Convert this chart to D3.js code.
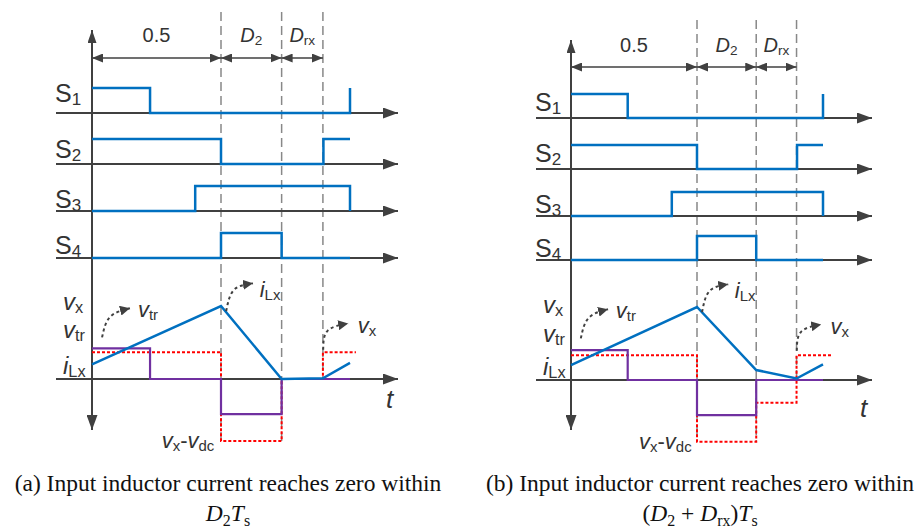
<!DOCTYPE html>
<html>
<head>
<meta charset="utf-8">
<script src="https://cdn.jsdelivr.net/npm/d3@7"></script>
<style>
  body { margin: 0; background: #fff; }
  svg { display: block; }
  .lbl { font-family: "Liberation Sans", Arial, sans-serif; fill: #333; }
  .cap { font-family: "Liberation Serif", "Times New Roman", serif; fill: #111; }
</style>
</head>
<body>
<div id="chart"></div>
<script>
// time boundaries (fraction of Ts) used by both panels
var tEdges = [0, 0.5, 0.735, 0.895];
var dimLabels = [[["0.5", ""]], [["D", "i"], ["2", "s"]], [["D", "i"], ["rx", "s"]]];

// switching signals, [t, level] step-after points
var s1 = [[0, 1], [0.225, 0], [1, 0], [1, 1]];
var s2 = [[0, 1], [0.5, 0], [0.897, 1], [1, 1]];
var s3 = [[0, 0], [0.4, 1], [1, 1], [1, 0]];
var s4 = [[0, 0], [0.5, 1], [0.735, 0], [1, 0]];
var sNames = ["1", "2", "3", "4"];

// panel (a): iLx hits zero inside D2
var iLxA = [[0, 0.2], [0.5, 1.0], [0.735, 0], [0.895, 0.01], [1, 0.22]];
var vtrA = [[0, 0.42], [0.225, 0], [0.5, -0.48], [0.735, 0], [1, 0]];
var vxA  = [[0, 0.365], [0.5, -0.85], [0.735, 0], [0.895, 0.365], [1.023, 0.365]];
// panel (b): iLx hits zero inside D2 + Drx
var iLxB = [[0, 0.205], [0.5, 1.0], [0.735, 0.137], [0.895, 0.02], [1, 0.215]];
var vtrB = [[0, 0.41], [0.225, 0], [0.5, -0.48], [0.735, 0], [1, 0]];
var vxB  = [[0, 0.34], [0.5, -0.845], [0.735, -0.31], [0.895, 0.34], [1.036, 0.34]];

// curly annotation arrows (t, value) and their labels
var curls = [
  [[0.039, 0.57], [0.07, 0.85], [0.147, 0.97]],
  [[0.52, 0.93], [0.55, 1.22], [0.624, 1.31]],
  [[0.896, 0.4], [0.913, 0.66], [0.993, 0.76]]
];
var curlLabels = [
  {t: 0.178, v: 0.85, parts: [["v", "i"], ["tr", "s"]]},
  {t: 0.65, v: 1.13, parts: [["i", "i"], ["Lx", "s"]]},
  {t: 1.03, v: 0.63, parts: [["v", "i"], ["x", "s"]]},
  {t: 0.27, v: -0.94, parts: [["v", "i"], ["x", "s"], ["-", ""], ["v", "i"], ["dc", "s"]]}
];
var leftLabels = [
  [["v", "i"], ["x", "s"]],
  [["v", "i"], ["tr", "s"]],
  [["i", "i"], ["Lx", "s"]]
];

var panels = [
  {x0: 92, x1: 350, yTop: 30, yBot: 430, axL: 56, axR: 398, sBase: [113, 164, 211, 258], sH: 25,
   zero: 379, unit: 73, dimY: 58, dimLblY: 42, dashTop: 12, tY: 408, lblX: 63, lblY: [310, 338, 374],
   sLblY: [102, 158, 208, 254], iLx: iLxA, vtr: vtrA, vx: vxA,
   cap: [["(a) Input inductor current reaches zero within", ""]],
   cap2: [["D", "i"], ["2", "s"], ["T", "i"], ["s", "s"]], capX: 228},
  {x0: 571, x1: 823, yTop: 40, yBot: 430, axL: 536, axR: 872, sBase: [118, 169, 216, 260], sH: 24,
   zero: 380, unit: 73, dimY: 67, dimLblY: 52, dashTop: 20, tY: 417, lblX: 543, lblY: [313, 342, 375],
   sLblY: [111, 162, 213, 257], iLx: iLxB, vtr: vtrB, vx: vxB,
   cap: [["(b) Input inductor current reaches zero within", ""]],
   cap2: [["(", ""], ["D", "i"], ["2", "s"], [" + ", ""], ["D", "i"], ["rx", "s"], [")", ""], ["T", "i"], ["s", "s"]], capX: 700}
];

var W = 922, H = 529;
var AX = "#404040";

var svg = d3.select("#chart").append("svg").attr("width", W).attr("height", H);
var defs = svg.append("defs");
function marker(id, len, wid) {
  defs.append("marker").attr("id", id)
    .attr("markerUnits", "userSpaceOnUse")
    .attr("viewBox", "0 0 " + len + " " + wid)
    .attr("refX", len).attr("refY", wid / 2)
    .attr("markerWidth", len).attr("markerHeight", wid)
    .attr("orient", "auto-start-reverse")
    .append("path").attr("d", "M0,0L" + len + "," + (wid / 2) + "L0," + wid + "Z").attr("fill", AX);
}
marker("axArrow", 15, 11);
marker("upArrow", 13, 9);
marker("dimArrow", 11, 9);
marker("curlArrow", 10, 10);

// rich text: parts = [[text, flags]] with i = italic, s = subscript
function rich(g, x, y, parts, size, anchor, cls, drop) {
  drop = drop || 0.14;
  var t = g.append("text").attr("class", cls || "lbl").attr("x", x).attr("y", y)
    .attr("font-size", size).attr("text-anchor", anchor || "start");
  var sub = false;
  parts.forEach(function (p) {
    var sp = t.append("tspan").text(p[0]);
    if (p[1].indexOf("i") >= 0) sp.attr("font-style", "italic");
    var isSub = p[1].indexOf("s") >= 0;
    if (isSub) sp.attr("font-size", size * 0.68);
    if (isSub && !sub) sp.attr("dy", size * drop);
    if (!isSub && sub) sp.attr("dy", -size * drop);
    sub = isSub;
  });
  return t;
}

panels.forEach(function (P) {
  var g = svg.append("g");
  var x = d3.scaleLinear().domain([0, 1]).range([P.x0, P.x1]);
  var y = d3.scaleLinear().domain([0, 1]).range([P.zero, P.zero - P.unit]);

  // vertical dashed lines at the interval boundaries
  g.selectAll(".dash").data(tEdges.slice(1)).enter().append("line")
    .attr("x1", function (d) { return x(d); }).attr("x2", function (d) { return x(d); })
    .attr("y1", P.dashTop).attr("y2", function (d, i) { return i < 2 ? y(-0.85) : P.zero; })
    .attr("stroke", "#888").attr("stroke-width", 1.5).attr("stroke-dasharray", "9,5");

  // dimension arrows
  d3.pairs(tEdges).forEach(function (pr, i) {
    g.append("line").attr("x1", x(pr[0])).attr("x2", x(pr[1])).attr("y1", P.dimY).attr("y2", P.dimY)
      .attr("stroke", AX).attr("stroke-width", 1.6)
      .attr("marker-start", "url(#dimArrow)").attr("marker-end", "url(#dimArrow)");
    rich(g, (x(pr[0]) + x(pr[1])) / 2, P.dimLblY, dimLabels[i], 20, "middle");
  });

  // vertical axis
  g.append("line").attr("x1", P.x0).attr("x2", P.x0).attr("y1", P.zero).attr("y2", P.yTop)
    .attr("stroke", AX).attr("stroke-width", 2).attr("marker-end", "url(#upArrow)");
  g.append("line").attr("x1", P.x0).attr("x2", P.x0).attr("y1", P.zero).attr("y2", P.yBot)
    .attr("stroke", AX).attr("stroke-width", 2).attr("marker-end", "url(#axArrow)");

  // switching signal rows
  [s1, s2, s3, s4].forEach(function (sig, k) {
    var base = P.sBase[k];
    g.append("line").attr("x1", P.axL).attr("x2", P.axR).attr("y1", base).attr("y2", base)
      .attr("stroke", AX).attr("stroke-width", 2).attr("marker-end", "url(#axArrow)");
    var ys = d3.scaleLinear().domain([0, 1]).range([base, base - P.sH]);
    var line = d3.line().x(function (d) { return x(d[0]); }).y(function (d) { return ys(d[1]); })
      .curve(d3.curveStepAfter);
    g.append("path").attr("d", line(sig)).attr("fill", "none")
      .attr("stroke", "#0070C0").attr("stroke-width", 2.5);
    rich(g, P.axL - 1, P.sLblY[k], [["S", ""], [sNames[k], "s"]], 25, "start", "lbl", 0.1);
  });

  // time axis of the waveform row
  g.append("line").attr("x1", P.axL).attr("x2", P.axR).attr("y1", P.zero).attr("y2", P.zero)
    .attr("stroke", AX).attr("stroke-width", 2).attr("marker-end", "url(#axArrow)");
  rich(g, P.axR - 12, P.tY, [["t", "i"]], 26, "start");

  var step = d3.line().x(function (d) { return x(d[0]); }).y(function (d) { return y(d[1]); })
    .curve(d3.curveStepAfter);
  var lin = d3.line().x(function (d) { return x(d[0]); }).y(function (d) { return y(d[1]); });

  g.append("path").attr("d", step(P.vx)).attr("fill", "none")
    .attr("stroke", "#FF0000").attr("stroke-width", 2).attr("stroke-dasharray", "3,2");
  g.append("path").attr("d", step(P.vtr)).attr("fill", "none")
    .attr("stroke", "#7030A0").attr("stroke-width", 2.2);
  g.append("path").attr("d", lin(P.iLx)).attr("fill", "none")
    .attr("stroke", "#0070C0").attr("stroke-width", 2.5);

  // curly dotted arrows
  var curve = d3.line().x(function (d) { return x(d[0]); }).y(function (d) { return y(d[1]); })
    .curve(d3.curveNatural);
  curls.forEach(function (c) {
    g.append("path").attr("d", curve(c)).attr("fill", "none")
      .attr("stroke", AX).attr("stroke-width", 2).attr("stroke-dasharray", "3,3")
      .attr("marker-end", "url(#curlArrow)");
  });
  curlLabels.forEach(function (l) {
    rich(g, x(l.t), y(l.v), l.parts, 22, "start");
  });
  leftLabels.forEach(function (p, i) {
    rich(g, P.lblX, P.lblY[i], p, 24, "start");
  });

  // caption
  rich(g, P.capX, 491, P.cap, 23.5, "middle", "cap", 0.2);
  rich(g, P.capX, 521, P.cap2, 23.5, "middle", "cap", 0.2);
});
</script>
</body>
</html>
